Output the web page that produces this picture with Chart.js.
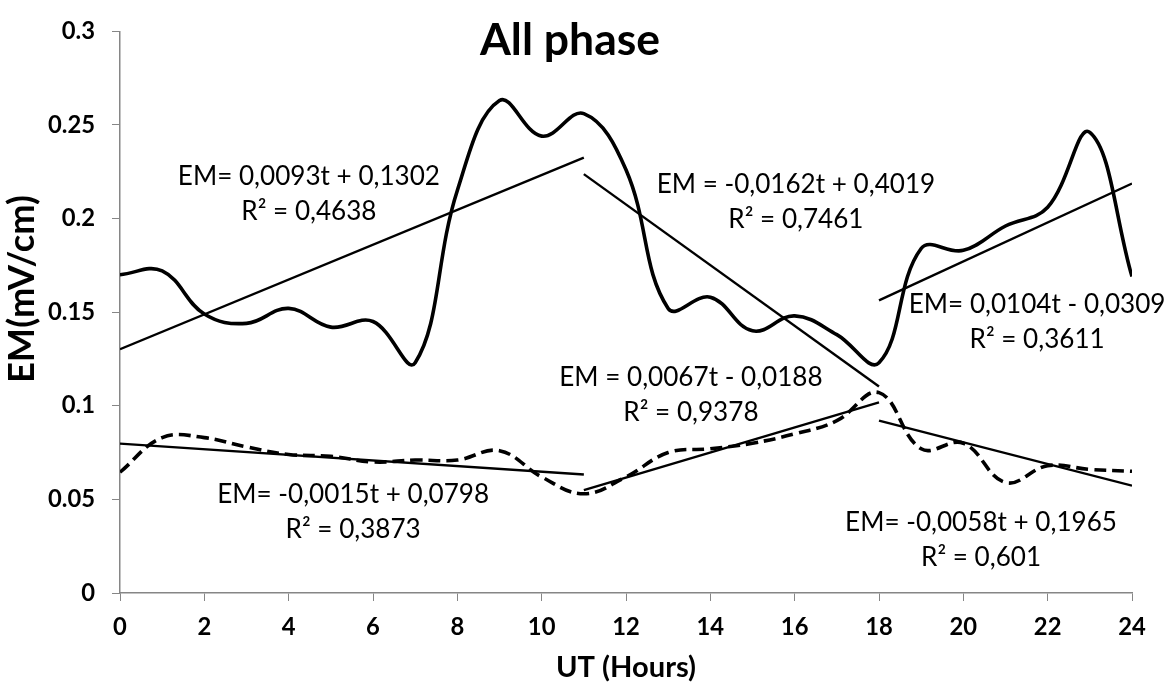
<!DOCTYPE html>
<html><head><meta charset="utf-8">
<script src="https://cdn.jsdelivr.net/npm/chart.js@4"></script>
<style>html,body{margin:0;padding:0;background:#fff}</style>
</head><body>
<canvas id="c" width="1174" height="685"></canvas>
<script>
const hours = [0,1,2,3,4,5,6,7,8,9,10,11,12,13,14,15,16,17,18,19,20,21,22,23,24];
const emSolid = [0.170,0.172,0.149,0.144,0.152,0.142,0.145,0.123,0.215,0.263,0.244,0.256,0.226,0.152,0.158,0.140,0.148,0.138,0.123,0.184,0.183,0.196,0.206,0.246,0.169];
const emDashed = [0.0645,0.083,0.083,0.078,0.074,0.073,0.070,0.071,0.071,0.076,0.062,0.053,0.062,0.075,0.077,0.080,0.085,0.092,0.107,0.077,0.080,0.059,0.068,0.066,0.065];
const xTicks = [0,2,4,6,8,10,12,14,16,18,20,22,24];
const yTicks = [0,0.05,0.1,0.15,0.2,0.25,0.3];
const trendStart = [0,11,18];
const trendEnd = [11,18,24];
const solidSlope = [0.0093,-0.0162,0.0104];
const solidIntercept = [0.1302,0.4019,-0.0309];
const dashedSlope = [-0.0015,0.0067,-0.0058];
const dashedIntercept = [0.0798,-0.0188,0.1965];
const equationLines = ['EM= 0,0093t + 0,1302','EM = -0,0162t + 0,4019','EM= 0,0104t - 0,0309','EM = 0,0067t - 0,0188','EM= -0,0015t + 0,0798','EM= -0,0058t + 0,1965'];
const r2Lines = ['R² = 0,4638','R² = 0,7461','R² = 0,3611','R² = 0,9378','R² = 0,3873','R² = 0,601'];
const labelX = [4.48,16.03,21.75,13.54,5.53,20.42];
const labelY = [0.2178,0.2136,0.1494,0.1106,0.0478,0.0331];
const chartTitle = 'All phase';
const xTitle = 'UT (Hours)';
const yTitle = 'EM(mV/cm)';

const FONT = 'Lato, "Open Sans", sans-serif';
const AXIS = '#868686';

// pick font sizes so that text widths match the reference
const mctx = document.createElement('canvas').getContext('2d');
function fitSize(text, weight, width){
  mctx.font = weight + ' 100px ' + FONT;
  return Math.round(100 * width / mctx.measureText(text).width * 10) / 10;
}
const tickSize = fitSize('0.25', 'bold', 47);
const xTitleSize = fitSize(xTitle, 'bold', 140);
const yTitleSize = fitSize(yTitle, 'bold', 188);
const titleSize = fitSize(chartTitle, 'bold', 180);
const annSize = fitSize(equationLines[0], 'normal', 262);

function trendSets(slopes, intercepts){
  return slopes.map((m,i)=>({
    data:[{x:trendStart[i],y:m*trendStart[i]+intercepts[i]},{x:trendEnd[i],y:m*trendEnd[i]+intercepts[i]}],
    borderColor:'#000',borderWidth:2.4,pointRadius:0,tension:0,fill:false
  }));
}

const annot = {
  id:'annot',
  afterDatasetsDraw(chart){
    const ctx = chart.ctx, xs = chart.scales.x, ys = chart.scales.y;
    ctx.save();
    ctx.fillStyle = '#000';
    ctx.textAlign = 'center';
    ctx.textBaseline = 'alphabetic';
    ctx.font = annSize + 'px ' + FONT;
    for (let i=0;i<equationLines.length;i++){
      const px = xs.getPixelForValue(labelX[i]);
      const py = ys.getPixelForValue(labelY[i]);
      ctx.fillText(equationLines[i], px, py);
      ctx.fillText(r2Lines[i], px, py + 35);
    }
    ctx.font = 'bold ' + titleSize + 'px ' + FONT;
    ctx.fillText(chartTitle, 570, 55);
    // y axis title
    ctx.translate(22, 289);
    ctx.rotate(-Math.PI/2);
    ctx.textBaseline = 'middle';
    ctx.font = 'bold ' + yTitleSize + 'px ' + FONT;
    ctx.fillText(yTitle, 0, 0);
    ctx.restore();
  }
};

new Chart(document.getElementById('c'), {
  type:'line',
  data:{datasets:[
    {data:hours.map((h,i)=>({x:h,y:emSolid[i]})),borderColor:'#000',borderWidth:3.6,pointRadius:0,tension:0.4,fill:false},
    {data:hours.map((h,i)=>({x:h,y:emDashed[i]})),borderColor:'#000',borderWidth:3.6,borderDash:[12,6],pointRadius:0,tension:0.4,fill:false},
    ...trendSets(solidSlope, solidIntercept),
    ...trendSets(dashedSlope, dashedIntercept)
  ]},
  options:{
    responsive:false,animation:false,
    layout:{padding:{top:20,right:42,bottom:0,left:0}},
    plugins:{legend:{display:false},tooltip:{enabled:false},title:{display:false}},
    scales:{
      x:{type:'linear',min:0,max:24,
        afterBuildTicks(s){s.ticks = xTicks.map(v=>({value:v}));},
        afterFit(s){s.height = 92;},
        ticks:{color:'#000',font:{family:FONT,size:tickSize,weight:'bold'},padding:12,maxRotation:0},
        grid:{drawOnChartArea:false,drawTicks:true,tickLength:8,color:AXIS},
        border:{display:true,color:AXIS,width:1.5},
        title:{display:true,text:xTitle,color:'#000',font:{family:FONT,size:xTitleSize,weight:'bold'},padding:{top:0,bottom:0}}
      },
      y:{type:'linear',min:0,max:0.3,
        afterBuildTicks(s){s.ticks = yTicks.map(v=>({value:v}));},
        afterFit(s){s.width = 120;},
        ticks:{color:'#000',font:{family:FONT,size:tickSize,weight:'bold'},padding:17,callback:v=>String(Number(v.toFixed(2)))},
        grid:{drawOnChartArea:false,drawTicks:true,tickLength:8,color:AXIS},
        border:{display:true,color:AXIS,width:1.5},
        title:{display:false}
      }
    }
  },
  plugins:[annot]
});
</script>
</body></html>
